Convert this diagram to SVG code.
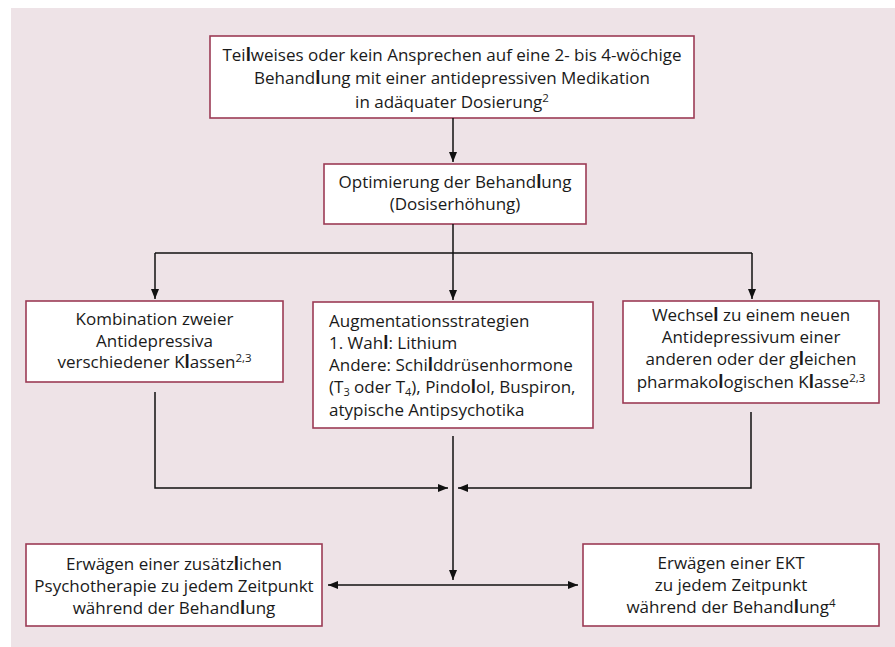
<svg xmlns="http://www.w3.org/2000/svg" width="895" height="647" viewBox="0 0 895 647">
<defs>
<marker id="ah" viewBox="0 0 10 8" refX="10" refY="4" markerWidth="10" markerHeight="8" markerUnits="userSpaceOnUse" orient="auto-start-reverse">
<path d="M0,0 L10,4 L0,8 Z" fill="#111"/>
</marker>
</defs>
<style>
.box{fill:#fff;stroke:#9c3b55;stroke-width:1.6}
.t{font-family:"Open Sans","Noto Sans","DejaVu Sans",sans-serif;font-size:17px;fill:#1a1a1a}
.c{text-anchor:middle}
.b{font-weight:bold}
.sup{font-size:11.5px}
.sub{font-size:11px}
.ln{fill:none;stroke:#111;stroke-width:1.5}
</style>
<rect x="11" y="8" width="884" height="639" fill="#eee3e7"/>
<g id="start">
<rect class="box" x="210" y="36" width="484" height="82"/>
<text class="t c" x="452" y="61">Tei<tspan class="b">l</tspan>weises oder kein Ansprechen auf eine 2- bis 4-wöchige</text>
<text class="t c" x="452" y="84">Behand<tspan class="b">l</tspan>ung mit einer antidepressiven Medikation</text>
<text class="t c" x="452" y="108">in adäquater Dosierung<tspan class="sup" baseline-shift="6">2</tspan></text>
</g>
<g id="optimize">
<rect class="box" x="324" y="164" width="262" height="60"/>
<text class="t c" x="455" y="188">Optimierung der Behand<tspan class="b">l</tspan>ung</text>
<text class="t c" x="455" y="210">(Dosiserhöhung)</text>
</g>
<g id="combination">
<rect class="box" x="26" y="301" width="257" height="81"/>
<text class="t c" x="154.5" y="325">Kombination zweier</text>
<text class="t c" x="154.5" y="347">Antidepressiva</text>
<text class="t c" x="154.5" y="368">verschiedener K<tspan class="b">l</tspan>assen<tspan class="sup" baseline-shift="6">2,3</tspan></text>
</g>
<g id="augmentation">
<rect class="box" x="313" y="302" width="280" height="126"/>
<text class="t" x="329" y="327">Augmentationsstrategien</text>
<text class="t" x="329" y="349">1. Wah<tspan class="b">l</tspan>: Lithium</text>
<text class="t" x="329" y="371">Andere: Schi<tspan class="b">l</tspan>ddrüsenhormone</text>
<text class="t" x="329" y="393">(T<tspan class="sub" baseline-shift="-3">3</tspan> oder T<tspan class="sub" baseline-shift="-3">4</tspan>), Pindo<tspan class="b">l</tspan>ol, Buspiron,</text>
<text class="t" x="329" y="416">atypische Antipsychotika</text>
</g>
<g id="switch">
<rect class="box" x="623" y="301" width="256" height="102"/>
<text class="t c" x="751" y="321">Wechse<tspan class="b">l</tspan> zu einem neuen</text>
<text class="t c" x="751" y="343">Antidepressivum einer</text>
<text class="t c" x="751" y="365">anderen oder der g<tspan class="b">l</tspan>eichen</text>
<text class="t c" x="751" y="388">pharmako<tspan class="b">l</tspan>ogischen K<tspan class="b">l</tspan>asse<tspan class="sup" baseline-shift="6">2,3</tspan></text>
</g>
<g id="psychotherapy">
<rect class="box" x="26" y="544" width="296" height="82"/>
<text class="t c" x="174" y="570">Erwägen einer zusätz<tspan class="b">l</tspan>ichen</text>
<text class="t c" x="174" y="592">Psychotherapie zu jedem Zeitpunkt</text>
<text class="t c" x="174" y="614">während der Behand<tspan class="b">l</tspan>ung</text>
</g>
<g id="ect">
<rect class="box" x="583" y="544" width="296" height="82"/>
<text class="t c" x="731" y="569">Erwägen einer EKT</text>
<text class="t c" x="731" y="591">zu jedem Zeitpunkt</text>
<text class="t c" x="731" y="613">während der Behand<tspan class="b">l</tspan>ung<tspan class="sup" baseline-shift="6">4</tspan></text>
</g>
<g id="connectors">
<path class="ln" d="M453,118 V162" marker-end="url(#ah)"/>
<path class="ln" d="M453,224 V253"/>
<path class="ln" d="M155,253 H752"/>
<path class="ln" d="M155,253 V299" marker-end="url(#ah)"/>
<path class="ln" d="M453,253 V300" marker-end="url(#ah)"/>
<path class="ln" d="M752,253 V299" marker-end="url(#ah)"/>
<path class="ln" d="M155,392 V488 H448" marker-end="url(#ah)"/>
<path class="ln" d="M751,412 V488 H458" marker-end="url(#ah)"/>
<path class="ln" d="M453,436 V580" marker-end="url(#ah)"/>
<path class="ln" d="M328,585 H578" marker-start="url(#ah)" marker-end="url(#ah)"/>
</g>
</svg>
